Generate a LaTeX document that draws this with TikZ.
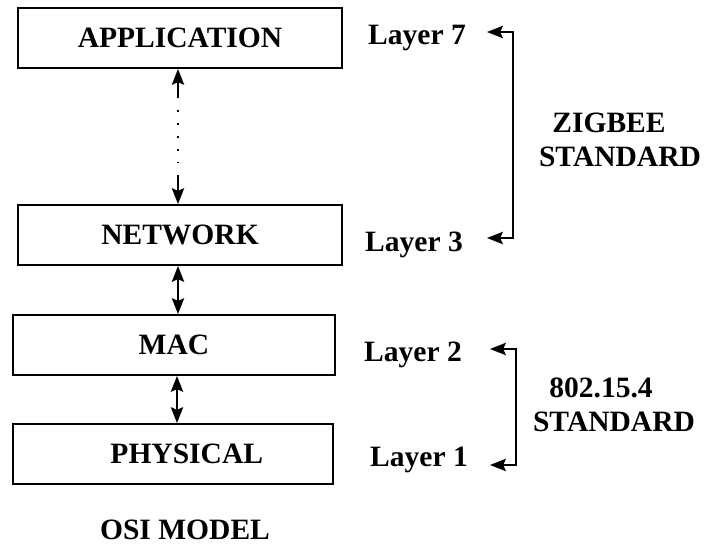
\documentclass[tikz,border=0pt]{standalone}
\usepackage{fontspec}
\setmainfont{Liberation Serif}
\usepackage{tikz}
\usetikzlibrary{positioning}
\usetikzlibrary{arrows.meta}
\tikzset{
  layerbox/.style={draw,line width=1.1pt,minimum height=1.2cm,inner sep=0pt},
  layerlink/.style={line width=1.1pt},
}
\begin{document}
\begin{tikzpicture}[>={Stealth[length=9pt,width=7pt,inset=1.5pt]},font=\fontsize{16.8}{19.5}\selectfont\bfseries]
  \useasboundingbox (0,0) rectangle (14.08,-11.08);
  % the OSI stack
  \node[layerbox,minimum width=6.48cm] (app) at (3.6,-0.76) {APPLICATION};
  \node[layerbox,minimum width=6.48cm] (net) at (3.6,-4.7) {NETWORK};
  \node[layerbox,minimum width=6.44cm] (mac) at (3.48,-6.9) {MAC};
  \node[layerbox,minimum width=6.4cm] (phy) at (3.46,-9.08) {\hspace*{0.55cm}PHYSICAL};
  \node (osi) at (3.7,-10.6) {OSI MODEL};
  % links between the layers, the upper one broken by dots
  \coordinate (dtop) at (3.56,-1.96);
  \coordinate (dbot) at (3.56,-3.5);
  \draw[layerlink,->] (dtop) -- (app.south -| dtop);
  \draw[line width=1pt,dash pattern=on 1pt off 6.37pt] (3.56,-2.2) -- (3.56,-3.24);
  \draw[layerlink,->] (dbot) -- (net.north -| dbot);
  \draw[layerlink,<->] (net.south -| dtop) -- (mac.north -| dtop);
  \draw[layerlink,<->] (mac.south -| 3.54,0) -- (phy.north -| 3.54,0);
  % layer numbers
  \node (l7) at (8.34,-0.76) {Layer 7};
  \node (l3) at (8.28,-4.9) {Layer 3};
  \node (l2) at (8.26,-7.1) {Layer 2};
  \node (l1) at (8.38,-9.2) {Layer 1};
  % brackets for the two standards
  \coordinate (t7) at (9.74,-0.64); \coordinate (c7) at (10.26,-0.64);
  \coordinate (t3) at (9.74,-4.76); \coordinate (c3) at (10.26,-4.76);
  \draw[layerlink,<->] (t7) -- (c7) -- (c3) -- (t3);
  \coordinate (t2) at (9.8,-6.98); \coordinate (c2) at (10.32,-6.98);
  \coordinate (t1) at (9.8,-9.3);  \coordinate (c1) at (10.32,-9.3);
  \draw[layerlink,<->] (t2) -- (c2) -- (c1) -- (t1);
  \node[align=center] (zig) at (12.4,-2.8) {ZIGBEE\hspace*{0.44cm}\\STANDARD};
  \node[align=center] (ieee) at (12.28,-8.1) {802.15.4\hspace*{0.52cm}\\STANDARD};
\end{tikzpicture}
\end{document}
